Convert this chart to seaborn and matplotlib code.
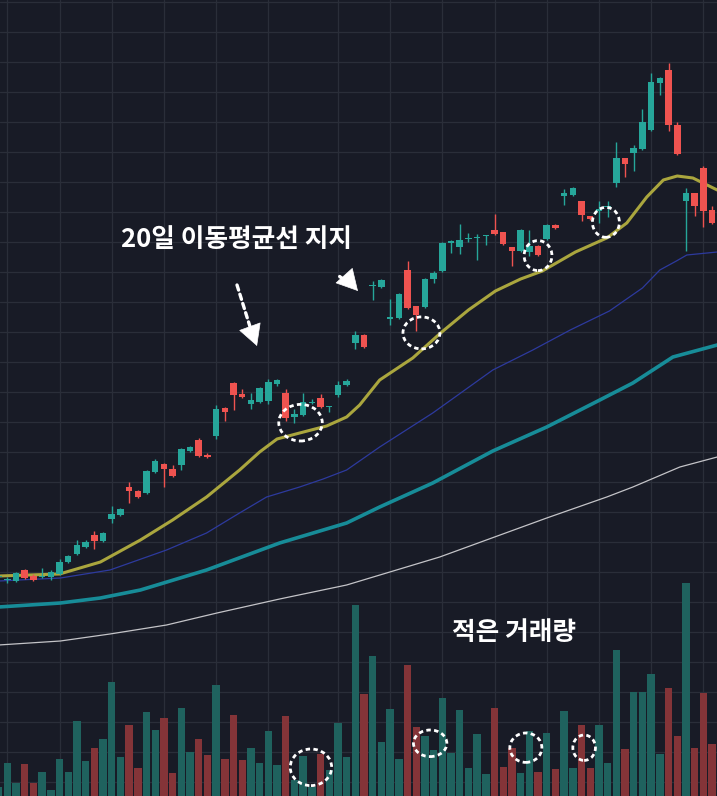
import numpy as np
import pandas as pd
import matplotlib
matplotlib.use("Agg")
from matplotlib import pyplot as plt
from matplotlib.patches import Ellipse
import seaborn as sns

# daily candles (price units)
opens = [219, 216, 215.3, 226, 220, 219, 219.3, 222, 234, 242, 249.3, 260.7, 254.7, 277.3, 280.7, 309.3, 305.3, 303.3, 324, 332,
         327.3, 331.3, 345.3, 356, 341.3, 360, 388, 413.3, 402, 392, 394, 394.7, 412, 403.3, 378.7, 381.3, 393, 398, 389, 401.3,
         411.3, 452.7, 461.4, 510, 509.1, 477.5, 477.6, 526, 489.7, 489, 517.2, 525.3, 552.8, 548.8, 557, 558, 560, 565.6, 563.6, 548.8,
         544.8, 544.1, 550.1, 557, 571, 599.6, 601.3, 594.7, 580, 585.5, 589, 612.7, 638, 643.3, 646.7, 666, 713.3, 726, 670.7, 595.3,
         602.7, 628, 586]
highs = [221, 219, 224, 227.3, 222, 228, 226, 236.7, 241, 256, 256, 264.7, 264, 290, 288, 314, 306, 326, 337.3, 333,
         330.7, 348, 350, 358, 343, 390.7, 389, 414, 407.3, 402.7, 409, 417.3, 417, 407.3, 387.3, 403.3, 397.3, 402, 390, 414.7,
         416.7, 465.5, 462, 515.2, 517, 497, 503, 535.4, 490.5, 518, 525, 554.5, 556.5, 572.3, 563, 562.2, 561.5, 582.4, 564.5, 549.5,
         567, 565.6, 551, 572, 572, 607.3, 609, 595.5, 580.5, 595.3, 595.3, 654, 638.5, 650.7, 687.3, 722.7, 719, 732.7, 674, 608,
         603.5, 630, 590]
lows = [217, 213, 214, 217, 215, 218, 216, 221, 233, 241, 248, 247.3, 254, 273.3, 280, 293.3, 298.5, 302, 323, 308.7,
        319, 326, 344.5, 338.7, 338, 356.7, 375.3, 386, 398, 387.3, 393, 392, 410, 374.7, 372.7, 380, 392, 388, 384, 398.7,
        410.5, 447.3, 448.5, 495.7, 508, 471.5, 477, 487.5, 465.5, 488, 513.2, 524, 543, 542, 553.8, 536, 551.5, 561, 551.5, 530,
        544, 540, 540.5, 556, 567.5, 591.3, 600.5, 574.7, 576.5, 573.3, 579.3, 608.7, 619.3, 624.7, 646, 665, 700.7, 665.3, 641.5, 544.7,
        580, 569.3, 572.5]
closes = [219.5, 217, 223.3, 218, 216, 220, 224, 234, 240, 250.7, 254, 254.7, 263.3, 282, 287.3, 305.3, 299.3, 325.3, 335.3, 327.3,
          320, 347.3, 348.7, 340, 338.7, 386.7, 384, 401.3, 398.7, 396, 408, 414, 416, 378, 382, 394, 394, 389.3, 389.3, 410.7,
          414.7, 461.4, 449.3, 511, 516, 479, 501.8, 488.3, 481, 517.2, 523.3, 553.5, 555.5, 556.2, 557.5, 559.5, 560.5, 561.6, 552.2, 544.8,
          566.3, 550.1, 541.4, 571, 568.3, 602.6, 608, 580.7, 577.3, 586, 589.3, 638, 632, 648, 674, 714, 718, 670.7, 642, 602.7,
          590, 585.3, 573.3]
volume = [9, 33, 13, 32, 13, 24, 6, 37, 24, 75, 35, 48, 57, 114, 39, 71, 28, 84, 66, 78,
          23, 88, 44, 57, 41, 111, 37, 81, 36, 48, 33, 65, 31, 80, 16, 40, 9, 42, 26, 73,
          39, 191, 102, 140, 54, 87, 37, 131, 69, 60, 46, 98, 43, 86, 28, 62, 22, 88, 29, 48,
          23, 65, 24, 63, 27, 85, 28, 71, 28, 71, 33, 146, 47, 104, 104, 122, 42, 108, 60, 213,
          48, 103, 52]

# moving averages, sampled along the day axis
ma20_day = [0, 7, 11.7, 16.3, 20, 23.9, 27.7, 30, 32, 34.6, 37.7, 40, 41.5, 43.8, 47.6, 50.8, 54, 57.1, 60, 62.5, 66.3, 69.9, 72.2, 74.5, 76.4, 78, 79.8, 82.6]
ma20 = [220, 222, 234, 256, 276, 299, 326, 344, 357, 363, 370, 379, 391, 416, 438, 463, 486, 505, 517, 525, 544, 558, 573, 599, 616, 620, 618, 606]
ma50_day = [0, 7.1, 12.8, 19.3, 23.9, 27.5, 30.8, 34.6, 37.3, 40, 43.8, 49.9, 56.8, 61.4, 65.7, 70.2, 74, 76, 77.9, 79.1, 82.6]
ma50 = [215, 218, 226, 246, 263, 282, 299, 309, 317, 326, 349, 383, 426, 446, 466, 485, 508, 526, 535, 541, 544]
ma100_day = [0, 7.1, 11.7, 16.3, 23.9, 32.3, 40, 43.8, 49.9, 56.8, 63, 69.1, 72.9, 77.5, 82.6]
ma100 = [189, 193, 198, 206, 226, 253, 273, 289, 313, 345, 369, 396, 413, 439, 451]
ma200_day = [0, 7.1, 12.8, 19.3, 25.1, 32.3, 40, 50.7, 63, 69.9, 72.9, 78.3, 82.6]
ma200 = [151, 155, 162, 171, 183, 197, 211, 239, 278, 299, 309, 329, 339]

grid_days = [1, 7, 13, 19, 25, 31, 39, 45, 51, 57, 63, 69, 75, 81]

BG = "#181b26"
UP = "#26a69a"
DOWN = "#ef5350"
VOL_UP = "#1f625e"
VOL_DOWN = "#843438"

sns.set_theme(style="dark", rc={"axes.facecolor": BG, "figure.facecolor": BG})
plt.rcParams["font.family"] = ["Noto Sans CJK KR", "DejaVu Sans"]

df = pd.DataFrame({"day": np.arange(len(opens)), "open": opens, "high": highs,
                   "low": lows, "close": closes, "volume": volume})
df["dir"] = np.where(df["close"] >= df["open"], "up", "down")
colors = np.where(df["dir"] == "up", UP, DOWN)

fig = plt.figure(figsize=(7.17, 7.96), dpi=100)
ax = fig.add_axes([0, 0, 1, 1])
ax2 = ax.twinx()

# volume on the twin axis
sns.barplot(data=df, x="day", y="volume", hue="dir", palette={"up": VOL_UP, "down": VOL_DOWN},
            native_scale=True, dodge=False, width=0.85, saturation=1,
            edgecolor="none", linewidth=0, legend=False, ax=ax2)

# moving averages
sns.lineplot(x=ma200_day, y=ma200, ax=ax, color="#c4c4c8", lw=0.9, zorder=2)
sns.lineplot(x=ma100_day, y=ma100, ax=ax, color="#178c98", lw=2.6, zorder=2)
sns.lineplot(x=ma50_day, y=ma50, ax=ax, color="#2d3a9e", lw=0.9, zorder=2)
sns.lineplot(x=ma20_day, y=ma20, ax=ax, color="#aaa63e", lw=2.2, zorder=2)

# candles
body_lo = np.minimum(df["open"], df["close"])
body_h = np.maximum(np.abs(df["close"] - df["open"]), 1.3)
ax.vlines(df["day"], df["low"], df["high"], colors=colors, lw=1, zorder=3)
ax.bar(df["day"], body_h, bottom=body_lo, width=0.75, color=colors, zorder=4, linewidth=0)

# dashed circles
dash = (0, (1.6, 1.2))
for cx, cy, w, h in [(34.7, 373.3, 5.0, 36.6), (48.6, 463.1, 4.25, 32),
                     (62.0, 540.4, 3.2, 30), (69.8, 573.7, 3.1, 30)]:
    ax.add_patch(Ellipse((cx, cy), w, h, fill=False, ec="white", lw=2, ls=dash, zorder=6))
for cx, cy, w, h in [(35.9, 28.7, 4.76, 36.6), (49.6, 52.7, 3.84, 26.6),
                     (60.6, 48.3, 3.68, 29.4), (67.3, 48.3, 2.6, 25.4)]:
    ax2.add_patch(Ellipse((cx, cy), w, h, fill=False, ec="white", lw=2, ls=dash, zorder=6))

ax.text(27.4, 556.5, "20일 이동평균선 지지", color="white", fontsize=18.5, fontweight="bold",
        ha="center", va="center", zorder=7)
ax2.text(59.2, 164, "적은 거래량", color="white", fontsize=18.5, fontweight="bold",
         ha="center", va="center", zorder=7)

# dashed arrows: dashed shaft + solid head
for (x0, y0), (x1, y1), (hx, hy) in [((27.4, 511), (29.3, 458), (29.7, 450)),
                                     ((39.2, 519.5), (40.6, 510), (41.3, 505))]:
    ax.annotate("", xy=(x1, y1), xytext=(x0, y0),
                arrowprops=dict(arrowstyle="-", color="white", lw=2.4, ls=(0, (1.6, 1.3)),
                                shrinkA=0, shrinkB=0), zorder=7)
    ax.annotate("", xy=(hx, hy), xytext=(x1 - 0.02 * (hx - x1) / abs(hx - x1 + 1e-9), y1 + 2),
                arrowprops=dict(arrowstyle="-|>,head_length=1.1,head_width=0.6", color="white",
                                lw=0.5, mutation_scale=13, shrinkA=0, shrinkB=0), zorder=7)

ax.set_xlim(0.16, 82.57)
ax.set_ylim(0, 796)
ax2.set_ylim(0, 796)
ax.set_xticks(grid_days)
ax.set_yticks(np.arange(14, 796, 30))
ax.grid(True, color="#2a2e39", lw=0.9)
ax2.grid(False)
ax2.set_yticks([])
for a in (ax, ax2):
    a.tick_params(length=0, labelbottom=False, labelleft=False, labelright=False)
    a.set_xlabel("")
    a.set_ylabel("")
    for s in a.spines.values():
        s.set_visible(False)

fig.savefig("out.png", dpi=100, facecolor=BG)
